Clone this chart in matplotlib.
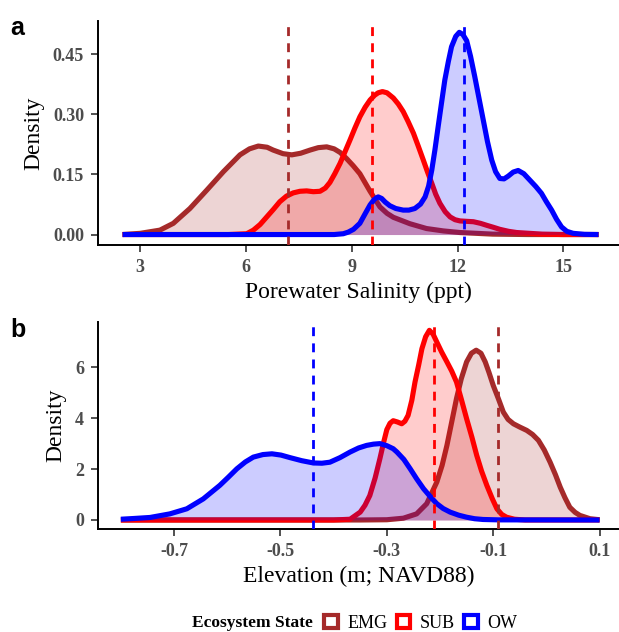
import matplotlib
matplotlib.use("Agg")
import matplotlib.pyplot as plt
from matplotlib.patches import Patch

# Farben der Ökosystemzustände
states = ["EMG", "SUB", "OW"]
colors = {"EMG": "#A52A2A", "SUB": "#FF0000", "OW": "#0000FF"}

# Panel a: Porenwassersalinität
sal_emg_x = [2.5, 3.0, 3.56, 3.94, 4.41, 4.89, 5.36, 5.83, 6.1, 6.35, 6.6, 6.77, 7.05, 7.3, 7.55,
             7.82, 8.05, 8.29, 8.5, 8.67, 8.85, 9.04, 9.23, 9.52, 9.8, 10.0, 10.18, 10.65, 11.12,
             11.6, 12.07, 13.0, 14.0, 16.0]
sal_emg_y = [0.0, 0.003, 0.011, 0.028, 0.065, 0.111, 0.157, 0.199, 0.214, 0.221, 0.218, 0.211, 0.202,
             0.199, 0.203, 0.211, 0.217, 0.219, 0.214, 0.205, 0.19, 0.172, 0.152, 0.108, 0.069, 0.053,
             0.043, 0.027, 0.015, 0.009, 0.005, 0.001, 0.0, 0.0]

sal_sub_x = [2.5, 5.5, 6.02, 6.21, 6.4, 6.59, 6.78, 6.96, 7.15, 7.34, 7.53, 7.72, 7.91, 8.1, 8.25,
             8.38, 8.52, 8.67, 8.81, 8.95, 9.09, 9.23, 9.38, 9.52, 9.65, 9.75, 9.87, 10.0, 10.18,
             10.32, 10.46, 10.6, 10.75, 10.89, 11.03, 11.15, 11.27, 11.38, 11.5, 11.65, 11.79,
             11.93, 12.07, 12.25, 12.45, 12.65, 12.83, 13.02, 13.2, 13.45, 13.68, 14.4, 15.0, 16.0]
sal_sub_y = [0.0, 0.0, 0.002, 0.011, 0.025, 0.044, 0.063, 0.082, 0.096, 0.104, 0.108, 0.109, 0.107,
             0.108, 0.116, 0.13, 0.152, 0.178, 0.207, 0.236, 0.266, 0.294, 0.318, 0.336, 0.348,
             0.354, 0.357, 0.354, 0.341, 0.326, 0.307, 0.282, 0.253, 0.22, 0.186, 0.156, 0.128,
             0.101, 0.078, 0.057, 0.044, 0.037, 0.034, 0.033, 0.032, 0.028, 0.023, 0.018, 0.013,
             0.008, 0.005, 0.001, 0.0, 0.0]

sal_ow_x = [2.5, 8.5, 8.76, 8.9, 9.05, 9.23, 9.38, 9.52, 9.65, 9.75, 9.85, 9.95, 10.08, 10.25, 10.46,
            10.62, 10.79, 10.95, 11.08, 11.18, 11.27, 11.36, 11.45, 11.55, 11.64, 11.74, 11.83,
            11.95, 12.05, 12.15, 12.26, 12.37, 12.49, 12.61, 12.73, 12.85, 12.97, 13.08, 13.2,
            13.32, 13.44, 13.58, 13.72, 13.88, 14.05, 14.22, 14.38, 14.52, 14.67, 14.81, 14.95,
            15.1, 15.28, 15.6, 16.0]
sal_ow_y = [0.0, 0.0, 0.002, 0.006, 0.013, 0.028, 0.052, 0.074, 0.089, 0.094, 0.09, 0.081, 0.072,
            0.065, 0.061, 0.061, 0.065, 0.076, 0.094, 0.121, 0.161, 0.212, 0.269, 0.331, 0.386,
            0.432, 0.469, 0.495, 0.505, 0.5, 0.484, 0.445, 0.394, 0.34, 0.286, 0.232, 0.186,
            0.157, 0.14, 0.139, 0.146, 0.156, 0.16, 0.152, 0.136, 0.12, 0.103, 0.082, 0.061,
            0.038, 0.019, 0.008, 0.003, 0.0005, 0.0]

sal_means = {"EMG": 7.18, "SUB": 9.58, "OW": 12.19}

# Panel b: Höhe (m; NAVD88)
elev_emg_x = [-0.8, -0.35, -0.3, -0.269, -0.244, -0.225, -0.206, -0.196, -0.187, -0.178, -0.169,
              -0.16, -0.15, -0.141, -0.132, -0.123, -0.115, -0.108, -0.1, -0.09, -0.081, -0.072,
              -0.062, -0.05, -0.037, -0.026, -0.015, -0.004, 0.007, 0.017, 0.026, 0.035, 0.044,
              0.054, 0.063, 0.082, 0.1]
elev_emg_y = [0.0, 0.0, 0.01, 0.07, 0.24, 0.64, 1.49, 2.15, 2.93, 3.85, 4.77, 5.55, 6.21, 6.55,
              6.67, 6.55, 6.21, 5.8, 5.29, 4.75, 4.24, 3.95, 3.78, 3.65, 3.52, 3.36, 3.13, 2.75,
              2.27, 1.78, 1.29, 0.87, 0.5, 0.3, 0.18, 0.05, 0.01]

elev_sub_x = [-0.8, -0.4, -0.369, -0.35, -0.341, -0.332, -0.322, -0.313, -0.306, -0.3, -0.294,
              -0.288, -0.28, -0.272, -0.266, -0.26, -0.253, -0.247, -0.24, -0.234, -0.227, -0.22,
              -0.213, -0.206, -0.197, -0.187, -0.178, -0.169, -0.16, -0.15, -0.14, -0.131, -0.122,
              -0.112, -0.102, -0.093, -0.084, -0.075, -0.06, -0.04, 0.1]
elev_sub_y = [0.0, 0.0, 0.03, 0.31, 0.58, 0.96, 1.65, 2.41, 3.05, 3.55, 3.8, 3.9, 3.85, 3.78, 3.88,
              4.11, 4.7, 5.42, 6.1, 6.73, 7.2, 7.45, 7.3, 6.99, 6.6, 6.21, 5.85, 5.42, 4.75, 3.98,
              3.25, 2.54, 1.93, 1.36, 0.85, 0.44, 0.22, 0.11, 0.03, 0.0, 0.0]

elev_ow_x = [-0.8, -0.775, -0.745, -0.708, -0.676, -0.645, -0.614, -0.598, -0.582, -0.566, -0.551,
             -0.533, -0.516, -0.499, -0.482, -0.46, -0.438, -0.422, -0.407, -0.388, -0.369, -0.353,
             -0.338, -0.325, -0.313, -0.3, -0.288, -0.281, -0.268, -0.256, -0.244, -0.231, -0.218,
             -0.206, -0.194, -0.181, -0.165, -0.15, -0.135, -0.119, -0.09, 0.1]
elev_ow_y = [0.03, 0.06, 0.1, 0.24, 0.44, 0.83, 1.36, 1.68, 2.01, 2.28, 2.47, 2.57, 2.6, 2.55, 2.45,
             2.33, 2.24, 2.23, 2.27, 2.45, 2.67, 2.83, 2.93, 2.98, 3.0, 2.92, 2.8, 2.67, 2.38, 2.01,
             1.62, 1.23, 0.91, 0.64, 0.45, 0.31, 0.19, 0.11, 0.05, 0.02, 0.005, 0.0]

elev_means = {"EMG": -0.091, "SUB": -0.211, "OW": -0.439}

sal_ticks = [3, 6, 9, 12, 15]
sal_yticks = [0.0, 0.15, 0.30, 0.45]
elev_ticks = [-0.7, -0.5, -0.3, -0.1, 0.1]
elev_yticks = [0, 2, 4, 6]

serif = "Liberation Serif"
tick_col = "#4d4d4d"

fig = plt.figure(figsize=(6.19, 6.32), dpi=100)
ax_a = fig.add_axes([0.1583, 0.6123, 0.8417, 0.3544])
ax_b = fig.add_axes([0.1583, 0.1622, 0.8417, 0.3288])


def draw_panel(ax, curves, means):
    z = 2
    for st in states:
        xs, ys = curves[st]
        ax.fill_between(xs, ys, 0, color=colors[st], alpha=0.2, lw=0, zorder=z)
        ax.plot(xs, ys, color=colors[st], lw=3.7, solid_capstyle="butt",
                solid_joinstyle="round", zorder=z + 0.5)
        z += 1
    for st in states:
        ax.axvline(means[st], color=colors[st], lw=2.0, dashes=(3.2, 2.6), zorder=10)
    for s in ["top", "right"]:
        ax.spines[s].set_visible(False)
    for s in ["left", "bottom"]:
        ax.spines[s].set_linewidth(1.4)
    ax.tick_params(axis="both", length=5, width=1.2, color="#333333", pad=5,
                   labelcolor=tick_col)


draw_panel(ax_a, {"EMG": (sal_emg_x, sal_emg_y), "SUB": (sal_sub_x, sal_sub_y),
                  "OW": (sal_ow_x, sal_ow_y)}, sal_means)
ax_a.set_xlim(1.803, 16.58)
ax_a.set_ylim(-0.0262, 0.5332)
ax_a.set_xticks(sal_ticks)
ax_a.set_yticks(sal_yticks)
ax_a.set_yticklabels([f"{v:.2f}" for v in sal_yticks])
ax_a.set_xticklabels([str(v) for v in sal_ticks])

draw_panel(ax_b, {"EMG": (elev_emg_x, elev_emg_y), "SUB": (elev_sub_x, elev_sub_y),
                  "OW": (elev_ow_x, elev_ow_y)}, elev_means)
ax_b.set_xlim(-0.843, 0.1365)
ax_b.set_ylim(-0.373, 7.79)
ax_b.set_xticks(elev_ticks)
ax_b.set_yticks(elev_yticks)
ax_b.set_xticklabels([f"{v:.1f}" for v in elev_ticks])
ax_b.set_yticklabels([str(v) for v in elev_yticks])

for ax in (ax_a, ax_b):
    for lab in ax.get_xticklabels() + ax.get_yticklabels():
        lab.set_fontfamily(serif)
        lab.set_fontweight("bold")
        lab.set_fontsize(13)
        lab.set_color(tick_col)

ax_a.set_xlabel("Porewater Salinity (ppt)", fontfamily=serif, fontsize=17, labelpad=4)
ax_a.set_ylabel("Density", fontfamily=serif, fontsize=17, labelpad=6)
ax_b.set_xlabel("Elevation (m; NAVD88)", fontfamily=serif, fontsize=17, labelpad=4)
ax_b.set_ylabel("Density", fontfamily=serif, fontsize=17, labelpad=6)

fig.text(0.016, 0.975, "a", fontfamily="Liberation Sans", fontweight="bold", fontsize=18,
         va="top", ha="left")
fig.text(0.016, 0.497, "b", fontfamily="Liberation Sans", fontweight="bold", fontsize=18,
         va="top", ha="left")

# Legende unten
fig.text(0.3097, 0.014, "Ecosystem State", fontfamily=serif, fontweight="bold", fontsize=12.5,
         va="center", ha="left")
handles = [Patch(facecolor="white", edgecolor=colors[st], lw=3.0, label=st) for st in states]
fig.legend(handles=handles, loc="center left", bbox_to_anchor=(0.5234, 0.014), ncol=3,
           frameon=False, borderpad=0, borderaxespad=0, handlelength=0.75, handleheight=0.75,
           handletextpad=0.55, columnspacing=0.5, prop={"family": serif, "size": 13})

fig.savefig("out.png", dpi=100)
